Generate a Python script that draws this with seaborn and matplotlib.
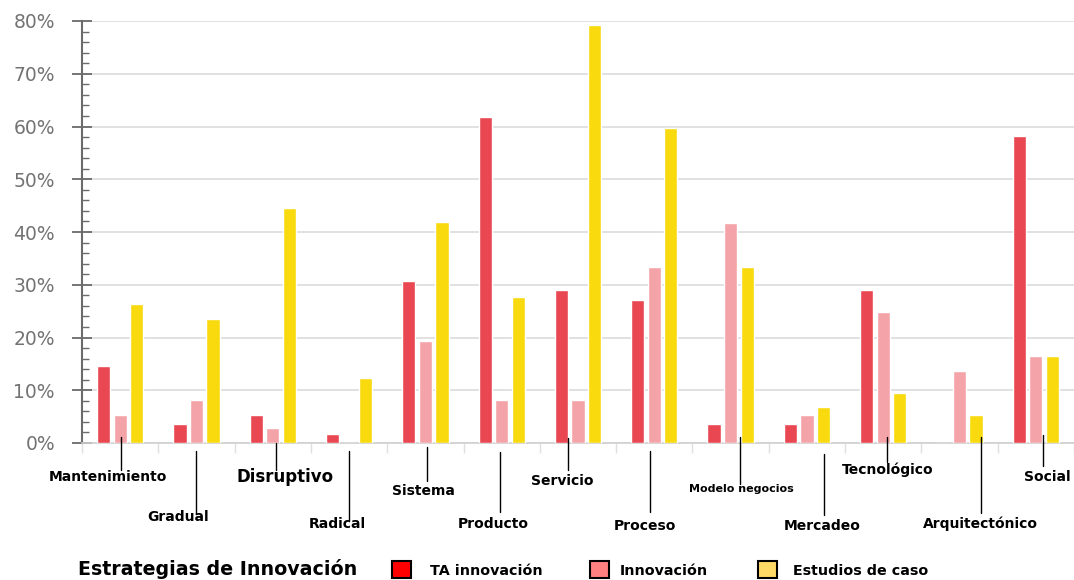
import matplotlib
matplotlib.use("Agg")
import matplotlib.pyplot as plt
from matplotlib.patches import Rectangle
from matplotlib.transforms import blended_transform_factory
from matplotlib.ticker import MultipleLocator, FixedLocator, FuncFormatter
import pandas as pd
import seaborn as sns

# ---- data -------------------------------------------------------------
categories = ["Mantenimiento", "Gradual", "Disruptivo", "Radical", "Sistema",
              "Producto", "Servicio", "Proceso", "Modelo negocios", "Mercadeo",
              "Tecnológico", "Arquitectónico", "Social"]
series_names = ["TA innovación", "Innovación", "Estudios de caso"]
ta_innovacion = [14.6, 3.6, 5.4, 1.8, 30.7, 61.8, 29.0, 27.1, 3.6, 3.6, 29.0, 0.0, 58.2]
innovacion = [5.3, 8.1, 2.8, 0.0, 19.3, 8.1, 8.1, 33.4, 41.7, 5.3, 24.8, 13.7, 16.5]
estudios_caso = [26.4, 23.5, 44.6, 12.3, 41.9, 27.7, 79.2, 59.7, 33.4, 6.8, 9.5, 5.3, 16.5]
y_ticks = [0, 10, 20, 30, 40, 50, 60, 70, 80]
legend_title = "Estrategias de Innovación"

# ---- styling ----------------------------------------------------------
bar_colors = ["#E94852", "#F4A3A8", "#F8DA0E"]
swatch_colors = ["#FF0000", "#FF8080", "#FFD966"]

# category label layout (offsets in category units, heights in px below the 0% line)
label_dx = [-0.16, -0.24, 0.16, -0.15, -0.03, -0.11, -0.20, -0.12, 0.14, 0.20, 0.06, 0.27, 0.15]
line_dx = [0.01, 0.00, 0.04, 0.00, 0.02, -0.02, -0.13, -0.06, 0.12, 0.22, 0.05, 0.28, 0.09]
line_top = [-6, 8, 0, 8, 4, 9, -5, 8, -6, 11, -6, -6, -8]
line_bot = [27, 71, 27, 78, 38, 69, 27, 69, 41, 72, 19, 70, 23]
text_y = [34, 74, 34, 81, 48, 81, 38, 83, 46, 83, 27, 81, 34]
label_size = [10, 10, 12, 10, 10, 10, 10, 10, 8, 10, 10, 10, 10]

# ---- figure -----------------------------------------------------------
sns.set_theme(style="white")
plt.rcParams["font.family"] = ["DejaVu Sans"]

W, H = 1074, 580
fig = plt.figure(figsize=(W / 100, H / 100), dpi=100)
ax_left, ax_right, ax_top, ax_bottom = 82, 1074, 21, 443
ax = fig.add_axes([ax_left / W, 1 - ax_bottom / H,
                   (ax_right - ax_left) / W, (ax_bottom - ax_top) / H])

df = pd.DataFrame({
    "Categoría": categories * 3,
    "Serie": [s for s in series_names for _ in categories],
    "Valor": ta_innovacion + innovacion + estudios_caso,
})

sns.barplot(data=df, x="Categoría", y="Valor", hue="Serie",
            order=categories, hue_order=series_names,
            palette=bar_colors, width=0.65, gap=0.2,
            saturation=1, legend=False, ax=ax, zorder=3)

ax.set_xlim(-0.5, len(categories) - 0.5)
ax.set_ylim(0, 80)
ax.set_xlabel("")
ax.set_ylabel("")

# y axis
ax.yaxis.set_major_locator(FixedLocator(y_ticks))
ax.yaxis.set_minor_locator(MultipleLocator(2))
ax.yaxis.set_major_formatter(FuncFormatter(lambda v, p: f"{v:.0f}%"))
ax.tick_params(axis="y", which="major", direction="inout", length=15, width=1.3,
               color="#6b6b6b", labelsize=13.5, labelcolor="#737373", pad=12, left=True)
ax.tick_params(axis="y", which="minor", direction="in", length=5, width=1.0,
               color="#6b6b6b", left=True)
ax.yaxis.grid(True, which="major", color="#dcdcdc", linewidth=1.2, zorder=0)
ax.set_axisbelow(True)

# x axis: only faint separators between groups
ax.xaxis.set_major_locator(FixedLocator([]))
ax.xaxis.set_minor_locator(FixedLocator([i - 0.5 for i in range(len(categories) + 1)]))
ax.tick_params(axis="x", which="minor", direction="out", length=7, width=1.0,
               color="#e0e0e0", bottom=True, labelbottom=False)

for side in ["top", "right"]:
    ax.spines[side].set_visible(False)
ax.spines["left"].set_color("#6b6b6b")
ax.spines["left"].set_linewidth(1.5)
ax.spines["bottom"].set_color("#cfcfcf")
ax.spines["bottom"].set_linewidth(1.2)

# category labels with leader lines
plot_h = ax_bottom - ax_top
trans = blended_transform_factory(ax.transData, ax.transAxes)
for i, name in enumerate(categories):
    lx = i + line_dx[i]
    ax.plot([lx, lx], [-line_top[i] / plot_h, -line_bot[i] / plot_h],
            color="black", linewidth=1.0, transform=trans, clip_on=False, zorder=5)
    ax.text(i + label_dx[i], -text_y[i] / plot_h, name, transform=trans,
            ha="center", va="center", fontsize=label_size[i], fontweight="bold",
            color="black", clip_on=False, zorder=6)

# legend row along the bottom
fig.text(78 / W, 1 - 569 / H, legend_title, ha="left", va="center",
         fontsize=13.7, fontweight="bold", color="black")
swatch_x = [392, 590, 758]
text_x = [430, 620, 793]
for sx, tx, col, name in zip(swatch_x, text_x, swatch_colors, series_names):
    fig.patches.append(Rectangle((sx / W, 1 - 578 / H), 19 / W, 17 / H,
                                 transform=fig.transFigure, facecolor=col,
                                 edgecolor="black", linewidth=1.5))
    fig.text(tx / W, 1 - 571 / H, name, ha="left", va="center",
             fontsize=10.3, fontweight="bold", color="black")

fig.savefig("out.png", dpi=100)
